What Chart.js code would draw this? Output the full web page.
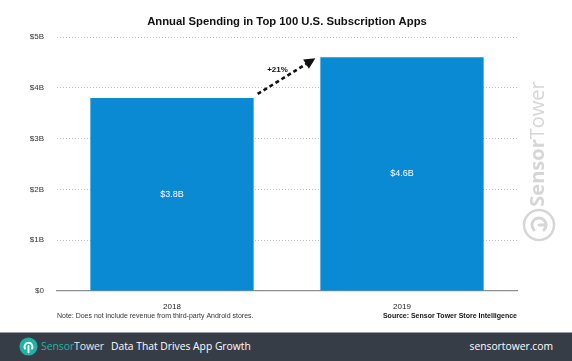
<!DOCTYPE html>
<html>
<head>
<meta charset="utf-8">
<script src="https://cdn.jsdelivr.net/npm/chart.js@4/dist/chart.umd.min.js"></script>
<style>
  body { margin: 0; background: #fff; font-family: "Liberation Sans", Arial, sans-serif; }
  #wrap { position: relative; width: 572px; height: 361px; overflow: hidden; }
  #chart-box { position: absolute; left: 0; top: 0; width: 572px; height: 332px; }
  #footer { position: absolute; left: 0; top: 332px; width: 572px; height: 29px; background: #373d47; border-top: 1px solid #9a9ea4; box-sizing: border-box; }
  #footer .logo { position: absolute; left: 19px; top: 4px; }
  #footer .brand { position: absolute; left: 41px; top: 6px; font-family: "Open Sans", sans-serif; font-size: 10.5px; letter-spacing: -0.1px; }
  #footer .tag { position: absolute; left: 111px; top: 6px; font-family: "Open Sans", sans-serif; font-size: 10.3px; color: #fff; }
  #footer .url { position: absolute; right: 19px; top: 6px; font-family: "Open Sans", sans-serif; font-size: 10.3px; color: #fff; }
</style>
</head>
<body>
<div id="wrap">
  <div id="chart-box"><canvas id="spending-chart"></canvas></div>
  <div id="footer">
    <svg class="logo" width="19" height="19" viewBox="0 0 20 20">
      <circle cx="10" cy="10" r="9.5" fill="#20b2a4"/>
      <path d="M10 16 V9.5 M6.3 12.2 A4.2 4.2 0 1 1 13.7 12.2" stroke="#fff" stroke-width="2" fill="none" stroke-linecap="round"/>
    </svg>
    <span class="brand"><span style="color:#20b2a4">Sensor</span><span style="color:#e6e8ea">Tower</span></span>
    <span class="tag">Data That Drives App Growth</span>
    <span class="url">sensortower.com</span>
  </div>
</div>
<script>
var years = ['2018', '2019'];
var spending = [3.8, 4.6];
var barLabels = ['$3.8B', '$4.6B'];
var tickLabels = ['$0', '$1B', '$2B', '$3B', '$4B', '$5B'];
var growthLabel = '+21%';

var extras = {
    id: 'extras',
    afterDatasetsDraw: function(chart) {
        var ctx = chart.ctx;
        var meta = chart.getDatasetMeta(0);
        var area = chart.chartArea;

        // labels inside bars
        ctx.save();
        ctx.fillStyle = '#ffffff';
        ctx.font = '9px "Liberation Sans", Arial, sans-serif';
        ctx.textAlign = 'center';
        ctx.textBaseline = 'middle';
        meta.data.forEach(function(bar, i) {
            ctx.fillText(barLabels[i], bar.x, (bar.y + bar.base) / 2);
        });
        ctx.restore();

        // dashed growth arrow
        var b1 = meta.data[0], b2 = meta.data[1];
        var x1 = b1.x + b1.width / 2 + 4, y1 = b1.y - 4;
        var x2 = b2.x - b2.width / 2 - 5, y2 = b2.y + 1;
        var ang = Math.atan2(y2 - y1, x2 - x1);
        ctx.save();
        ctx.strokeStyle = '#111';
        ctx.fillStyle = '#111';
        ctx.lineWidth = 2.6;
        ctx.setLineDash([4, 3]);
        ctx.beginPath();
        ctx.moveTo(x1, y1);
        ctx.lineTo(x2 - 8 * Math.cos(ang), y2 - 8 * Math.sin(ang));
        ctx.stroke();
        ctx.setLineDash([]);
        ctx.beginPath();
        ctx.moveTo(x2, y2);
        ctx.lineTo(x2 - 11 * Math.cos(ang) + 5.5 * Math.sin(ang), y2 - 11 * Math.sin(ang) - 5.5 * Math.cos(ang));
        ctx.lineTo(x2 - 11 * Math.cos(ang) - 5.5 * Math.sin(ang), y2 - 11 * Math.sin(ang) + 5.5 * Math.cos(ang));
        ctx.closePath();
        ctx.fill();
        ctx.font = 'bold 8px "Liberation Sans", Arial, sans-serif';
        ctx.textAlign = 'center';
        ctx.textBaseline = 'middle';
        ctx.fillText(growthLabel, (x1 + x2) / 2 - 9, (y1 + y2) / 2 - 6);
        ctx.restore();

        // title
        ctx.save();
        ctx.fillStyle = '#111';
        ctx.font = 'bold 11.3px "Liberation Sans", Arial, sans-serif';
        ctx.textAlign = 'center';
        ctx.textBaseline = 'middle';
        ctx.fillText('Annual Spending in Top 100 U.S. Subscription Apps', 287, 22);
        ctx.restore();

        // notes
        ctx.save();
        ctx.fillStyle = '#333';
        ctx.textBaseline = 'middle';
        ctx.font = '7px "Liberation Sans", Arial, sans-serif';
        ctx.textAlign = 'left';
        ctx.fillText('Note: Does not include revenue from third-party Android stores.', area.left, 316);
        ctx.font = 'bold 7px "Liberation Sans", Arial, sans-serif';
        ctx.fillStyle = '#111';
        ctx.textAlign = 'right';
        ctx.fillText('Source: Sensor Tower Store Intelligence', area.right, 316);
        ctx.restore();

        // watermark
        ctx.save();
        ctx.translate(538, 144);
        ctx.rotate(-Math.PI / 2);
        ctx.fillStyle = '#d6d6d6';
        ctx.textBaseline = 'middle';
        ctx.textAlign = 'left';
        ctx.font = 'bold 20px "Open Sans", sans-serif';
        var w1 = ctx.measureText('Sensor').width;
        ctx.font = '20px "Open Sans", sans-serif';
        var w2 = ctx.measureText('Tower').width;
        var sx = -(w1 + w2) / 2;
        ctx.font = 'bold 20px "Open Sans", sans-serif';
        ctx.fillText('Sensor', sx, 0);
        ctx.font = '20px "Open Sans", sans-serif';
        ctx.fillText('Tower', sx + w1, 0);
        ctx.restore();

        ctx.save();
        ctx.strokeStyle = '#d6d6d6';
        ctx.lineWidth = 2.5;
        ctx.beginPath();
        ctx.arc(539, 225, 15, 0, Math.PI * 2);
        ctx.stroke();
        ctx.lineWidth = 3;
        ctx.lineCap = 'round';
        ctx.beginPath();
        ctx.arc(539, 225, 7, Math.PI * 0.75, Math.PI * 0.25 + Math.PI * 2, false);
        ctx.stroke();
        ctx.beginPath();
        ctx.moveTo(539, 225);
        ctx.lineTo(546, 225);
        ctx.stroke();
        ctx.restore();
    }
};

var ctx = document.getElementById('spending-chart').getContext('2d');
var spendingChart = new Chart(ctx, {
    type: 'bar',
    data: {
        labels: years,
        datasets: [{
            data: spending,
            backgroundColor: '#0a8ad3',
            borderWidth: 0,
            barPercentage: 0.71,
            categoryPercentage: 1
        }]
    },
    options: {
        responsive: true,
        maintainAspectRatio: false,
        animation: false,
        layout: { padding: { left: 0, right: 55, top: 37, bottom: 0 } },
        plugins: {
            legend: { display: false },
            tooltip: { enabled: false }
        },
        scales: {
            x: {
                grid: { display: false },
                border: { display: true, color: '#8f8f8f', width: 1.2 },
                ticks: { color: '#222', font: { size: 8, family: '"Liberation Sans", Arial, sans-serif' }, padding: 3 },
                afterFit: function(axis) { axis.height = 41; }
            },
            y: {
                min: 0,
                max: 5,
                ticks: {
                    stepSize: 1,
                    padding: 13,
                    color: '#333',
                    font: { size: 8, family: '"Liberation Sans", Arial, sans-serif' },
                    callback: function(v) { return tickLabels[v]; }
                },
                grid: {
                    drawTicks: false,
                    lineWidth: 1,
                    color: function(c) { return c.tick.value === 0 ? 'transparent' : '#bdbdbd'; }
                },
                border: { display: false, dash: [1, 2] },
                afterFit: function(axis) { axis.width = 57; }
            }
        }
    },
    plugins: [extras]
});
</script>
</body>
</html>
